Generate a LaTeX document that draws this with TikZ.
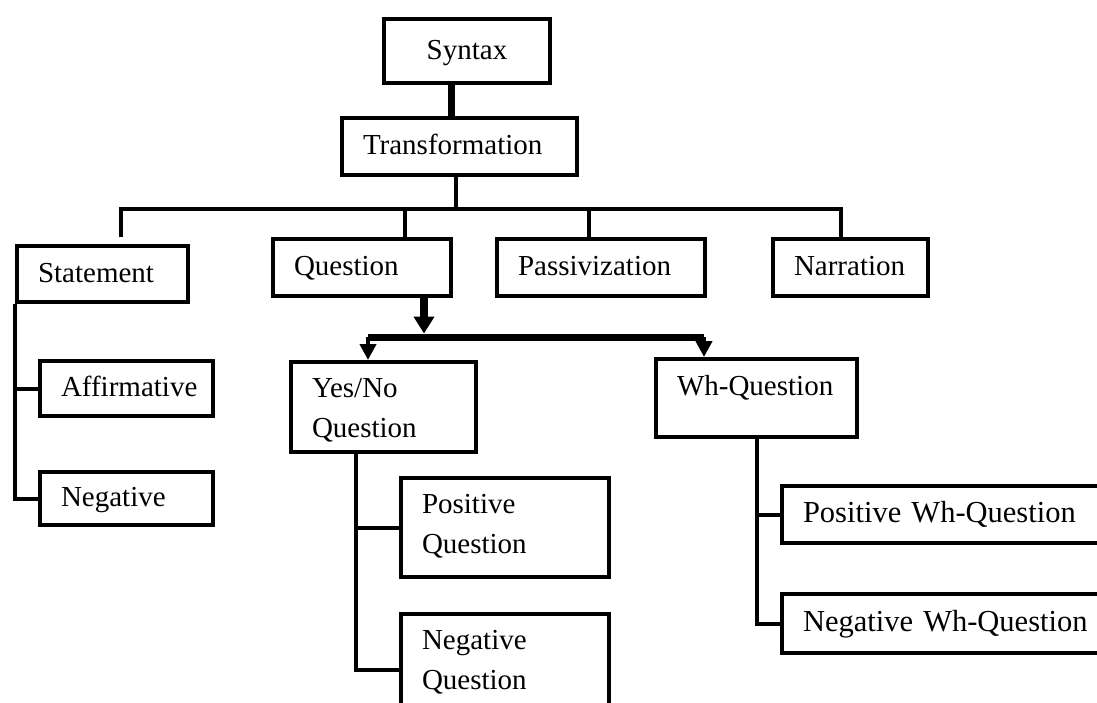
\documentclass[tikz,border=0pt]{standalone}
\usepackage{fontspec}
\setmainfont{Liberation Serif}
\usetikzlibrary{arrows.meta}
\hyphenpenalty=10000
\exhyphenpenalty=10000

\begin{document}
\begin{tikzpicture}[x=1pt,y=-1pt,
	box/.style={draw, line width=4pt, anchor=north west, align=left,
		inner xsep=21pt, inner ysep=0pt, text height=20pt, text depth=4pt,
		font=\fontsize{29}{40}\selectfont},
	link/.style={line width=4pt},
	heavy/.style={line width=7pt},
	headdown/.style={line width=4pt, -{Triangle[length=16pt,width=16pt]}},
	bigdown/.style={line width=8pt, -{Triangle[length=17pt,width=20pt]}}]
	\useasboundingbox (0,0) rectangle (1097,702);
	% top
	\node[box, align=center, text width=124pt, minimum height=64pt] (syntax) at (382,17) {Syntax};
	\node[box, text width=193pt, minimum height=57pt] (trans) at (340,116) {Transformation};
	% first level
	\node[box, text width=129pt, minimum height=56pt] (stmt) at (15,244) {Statement};
	\node[box, text width=136pt, minimum height=57pt] (question) at (271,237) {Question};
	\node[box, text width=166pt, minimum height=57pt] (passiv) at (495,237) {Passivization};
	\node[box, text width=113pt, minimum height=57pt] (narr) at (771,237) {Narration};
	% statement
	\node[box, text width=131pt, minimum height=55pt] (aff) at (38,359) {Affirmative};
	\node[box, text width=131pt, minimum height=53pt] (neg) at (38,470) {Negative};
	% question
	\node[box, text width=143pt, minimum height=90pt, text depth=40pt] (yesno) at (289,360) {Yes/No\\Question};
	\node[box, text width=159pt, minimum height=78pt, text depth=26pt] (wh) at (654,357) {Wh-Question};
	\node[box, text width=166pt, minimum height=99pt, text depth=49pt] (posq) at (399,476) {Positive\\Question};
	\node[box, text width=166pt, minimum height=99pt, text depth=49pt] (negq) at (399,612) {Negative\\Question};
	\node[box, text width=310pt, minimum height=57pt, font=\fontsize{30.5}{40}\selectfont] (poswh) at (780,484) {Positive Wh-Question};
	\node[box, text width=310pt, minimum height=59pt, font=\fontsize{30.5}{40}\selectfont] (negwh) at (780,592) {Negative Wh-Question};

	\coordinate (st) at (451,0);
	\draw[heavy] (syntax.south -| st) -- (trans.north -| st);
	% bus
	\coordinate (bt) at (456,209);
	\coordinate (bs) at (121,209);
	\coordinate (bq) at (405,209);
	\coordinate (bp) at (589,209);
	\coordinate (bn) at (841,209);
	\draw[link] (trans.south -| bt) -- (bt);
	\draw[link, shorten <=7pt] (bs |- stmt.north) -- (bs) -- (bn) -- (bn |- narr.north);
	\draw[link] (bq) -- (bq |- question.north);
	\draw[link] (bp) -- (bp |- passiv.north);
	% statement branches
	\draw[link] (stmt.south west) |- (neg.west);
	\draw[link] (stmt.south west |- aff.west) -- (aff.west);
	% question split
	\coordinate (split) at (424,337);
	\coordinate (bl) at (368,337);
	\coordinate (br) at (704,337);
	\draw[bigdown, shorten >=3.5pt] (question.south -| split) -- (split);
	\draw[heavy] (bl) -- (br);
	\draw[headdown] (bl) -- (bl |- yesno.north);
	\draw[headdown] (br) -- (br |- wh.north);
	% yes/no branches
	\coordinate (yq) at (356,670);
	\draw[link] (yesno.south -| yq) -- (yq) -- (yq -| negq.west);
	\draw[link] (yq |- posq.west) -- (posq.west);
	% wh branches
	\draw[link] (wh.south) |- (negwh.west);
	\draw[link] (wh.south |- poswh.west) -- (poswh.west);
\end{tikzpicture}
\end{document}
